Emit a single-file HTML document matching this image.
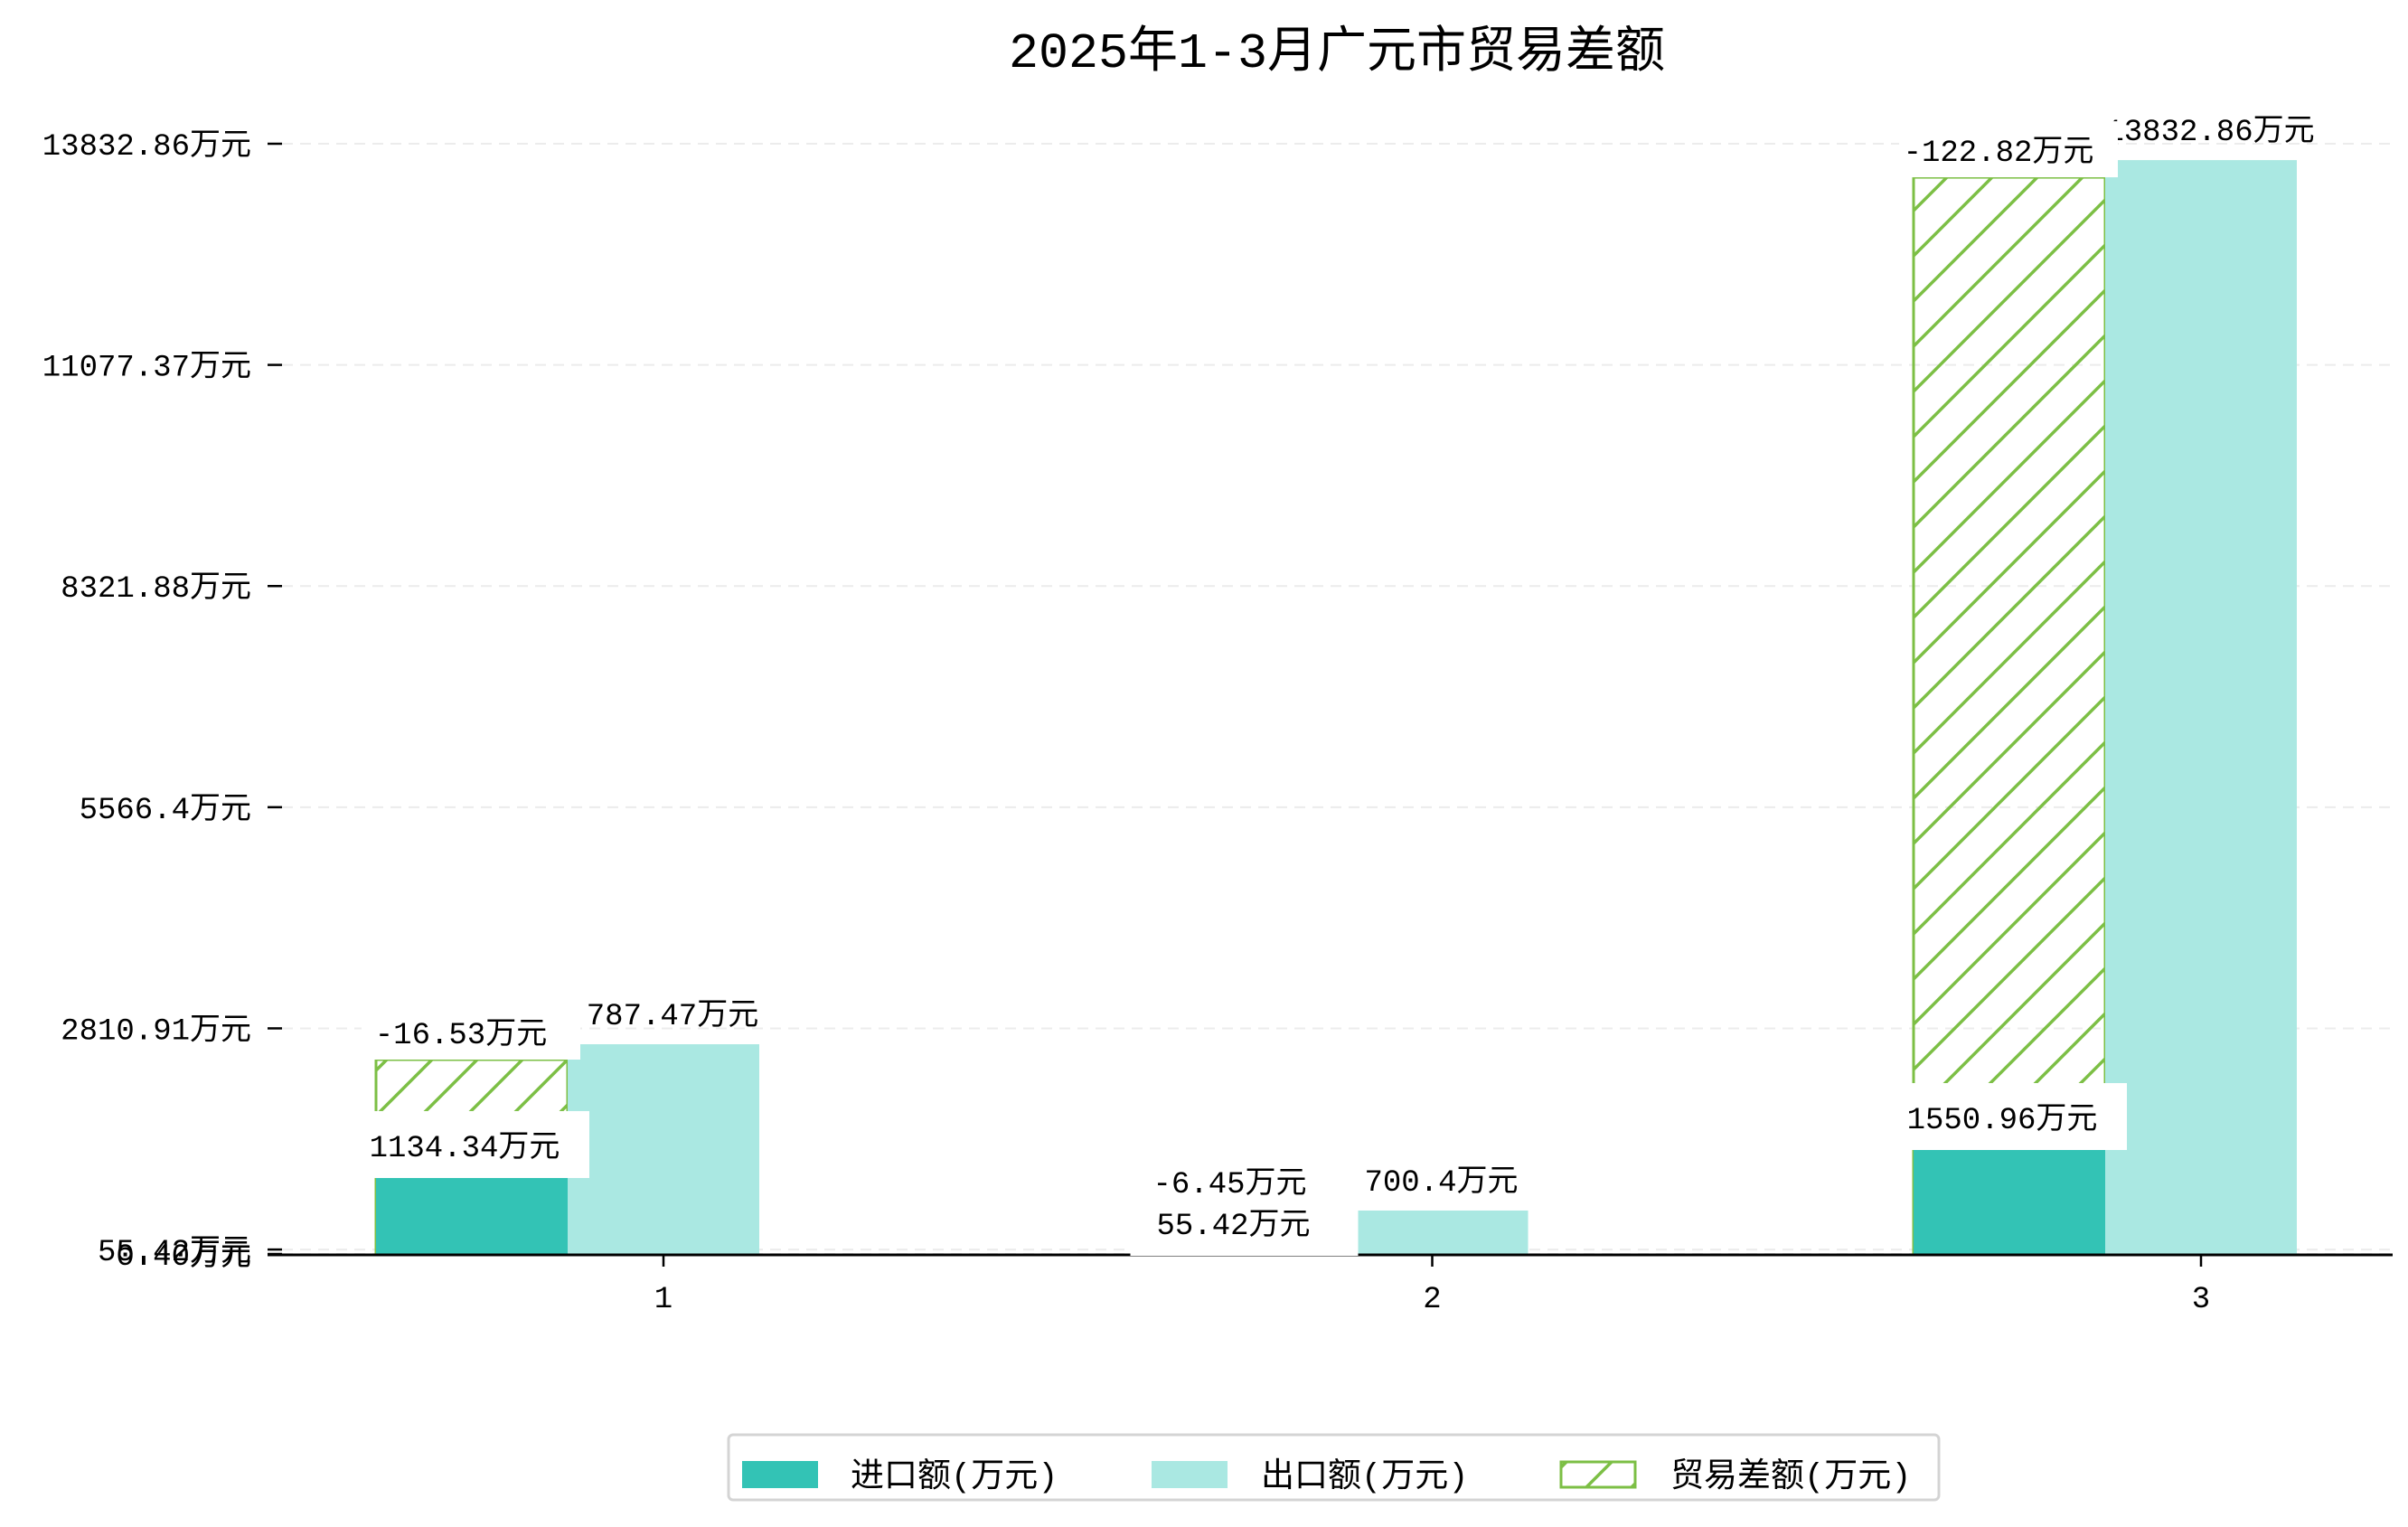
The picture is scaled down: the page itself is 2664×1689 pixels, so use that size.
<!DOCTYPE html>
<html><head><meta charset="utf-8">
<style>
html,body{margin:0;padding:0;background:#fff;}
svg{display:block;font-family:"Liberation Mono","Noto Sans CJK SC",monospace;}
</style></head>
<body>
<svg id="chart" width="2664" height="1689" viewBox="0 0 2664 1689" xmlns="http://www.w3.org/2000/svg">
<defs>
<pattern id="hatch" patternUnits="userSpaceOnUse" width="50" height="50">
<path d="M-10,60 L60,-10 M-10,10 L10,-10 M40,60 L60,40" stroke="#7cbf45" stroke-width="3.5"/>
</pattern>
</defs>
<text x="1479" y="74" font-size="55" text-anchor="middle" fill="#000">2025年1-3月广元市贸易差额</text>
<g id="grid"></g>
<g id="bars"></g>
<g id="axisline"></g>
<g id="labels"></g>
<g id="axes"></g>
<g>
<rect x="806" y="1587" width="1339" height="72" rx="5" fill="#fff" stroke="#d4d4d4" stroke-width="3"/>
<rect x="821" y="1616" width="84" height="30" fill="#33c3b5"/>
<text x="941" y="1644" font-size="37">进口额(万元)</text>
<rect x="1274" y="1616" width="84" height="30" fill="#aae8e2"/>
<text x="1395" y="1644" font-size="37">出口额(万元)</text>
<rect x="1727" y="1617" width="82" height="28" fill="url(#hatch)" stroke="#7cbf45" stroke-width="3"/>
<text x="1848" y="1644" font-size="37">贸易差额(万元)</text>
</g>
</svg>
<script>
const categories = ["1", "2", "3"];
const importValues = [969, 0, 1318];
const exportValues = [2613, 541, 13629];
const balanceValues = [2422, 0, 13415];
const importLabels = ["1134.34万元", "55.42万元", "1550.96万元"];
const exportLabels = ["787.47万元", "700.4万元", "13832.86万元"];
const balanceLabels = ["-16.53万元", "-6.45万元", "-122.82万元"];
const tickValues = [13832.86, 11077.37, 8321.88, 5566.4, 2810.91, 55.42, 0];
const tickLabels = ["13832.86万元", "11077.37万元", "8321.88万元", "5566.4万元", "2810.91万元", "55.42万元", "0.40万元"];

const NS = "http://www.w3.org/2000/svg";
const base = 1387, topY = 159, topV = 13832.86;
function y(v){ return base - v * (base - topY) / topV; }
const cx0 = 734, cstep = 850.5, bw = 212;
function x(i){ return cx0 + i * cstep; }
function mk(tag, attrs, parent){
  const e = document.createElementNS(NS, tag);
  for (const k in attrs) e.setAttribute(k, attrs[k]);
  parent.appendChild(e);
  return e;
}
const grid = document.getElementById('grid');
const bars = document.getElementById('bars');
const labels = document.getElementById('labels');
const axes = document.getElementById('axes');
const axisline = document.getElementById('axisline');

tickValues.forEach((v, i) => {
  const g = mk('line', {x1:312, x2:2647, y1:y(v), y2:y(v), stroke:'#ececec', 'stroke-width':2, 'stroke-dasharray':'12,8'}, grid);
  
  
  const t = mk('line', {x1:296, x2:312, y1:y(v), y2:y(v), stroke:'#000', 'stroke-width':2.5}, axes);
  
  
  const l = mk('text', {x:278, y:y(v) + 12, 'font-size':34, 'text-anchor':'end'}, axes);
  l.textContent = tickLabels[i];
  
  
});

const ax = mk('line', {x1:296, x2:2647, y1:base + 1, y2:base + 1, stroke:'#000', 'stroke-width':3}, axisline);



categories.forEach((c, i) => {
  const cx = x(i);
  const hb = mk('rect', {x:cx - 1.5*bw, y:y(balanceValues[i]), width:bw, height:Math.max(0, base - y(balanceValues[i])), fill:'url(#hatch)', stroke:'#7cbf45', 'stroke-width':3}, bars);
  
  
  const ib = mk('rect', {x:cx - 1.5*bw, y:y(importValues[i]), width:bw, height:base - y(importValues[i]), fill:'#33c3b5'}, bars);
  
  
  const eb = mk('rect', {x:cx - 0.5*bw, y:y(exportValues[i]), width:bw, height:base - y(exportValues[i]), fill:'#aae8e2'}, bars);
  
  

  const et = mk('text', {x:cx + 10, y:y(exportValues[i]) - 22, 'font-size':34, 'text-anchor':'middle'}, labels);
  et.textContent = exportLabels[i];
  
  

  const iy = y(importValues[i]);
  const ibx = mk('rect', {x:cx - 1.5*bw - 16, y:iy - 72, width:bw + 40, height:74, fill:'#fff'}, labels);
  
  
  const it = mk('text', {x:cx - bw - 8, y:iy - 22, 'font-size':34, 'text-anchor':'middle'}, labels);
  it.textContent = importLabels[i];
  
  

  const by = Math.min(y(balanceValues[i]), iy - 50);
  const bbx = mk('rect', {x:cx - 1.5*bw - 16, y:by - 62, width:bw + 30, height:62, fill:'#fff'}, labels);
  
  
  const bt = mk('text', {x:cx - bw - 12, y:by - 18, 'font-size':34, 'text-anchor':'middle'}, labels);
  bt.textContent = balanceLabels[i];
  
  

  const xt = mk('line', {x1:cx, x2:cx, y1:base, y2:base + 14, stroke:'#000', 'stroke-width':2.5}, axes);
  
  
  const xl = mk('text', {x:cx, y:1446, 'font-size':34, 'text-anchor':'middle'}, axes);
  xl.textContent = c;
  
  
});
</script>
</body></html>
